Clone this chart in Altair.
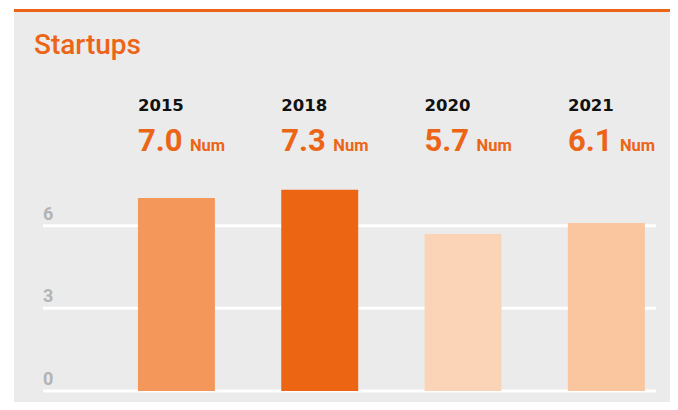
import altair as alt
import pandas as pd

# ---- data ----
years = ["2015", "2018", "2020", "2021"]
values = [7.0, 7.3, 5.7, 6.1]
bar_colors = ["#F3975A", "#EC6513", "#FBD4B8", "#F9C6A0"]
tick_values = [0, 3, 6]
title_text = "Startups"
unit = "Num"

ORANGE = "#EC6517"
BG = "#EBEBEB"

W, H = 613, 383

df = pd.DataFrame({"year": years, "value": values,
                   "label": [f"{v:.1f}" for v in values],
                   "unit": [unit] * len(years)})
ticks = pd.DataFrame({"t": tick_values, "lab": [str(t) for t in tick_values]})
one = pd.DataFrame({"a": [0]})

xscale = alt.Scale(domain=years, paddingInner=0.463, paddingOuter=0.37, align=0.895)
yscale = alt.Scale(domain=[0, 13.9], nice=False, zero=True)

panel = alt.Chart(one).mark_rect(color=BG).encode(
    x=alt.value(-29), x2=alt.value(627), y=alt.value(4), y2=alt.value(394))
topline = alt.Chart(one).mark_rect(color=ORANGE).encode(
    x=alt.value(-29), x2=alt.value(627), y=alt.value(1), y2=alt.value(4))

grid = alt.Chart(ticks).mark_rule(color="white", strokeWidth=3).encode(
    y=alt.Y("t:Q", scale=yscale, axis=None),
    x=alt.value(0), x2=alt.value(W))
ticklab = alt.Chart(ticks).mark_text(
    align="left", baseline="alphabetic", dy=-6, font="Roboto", fontSize=18,
    fontWeight="bold", color="#B3B3B3").encode(
    y=alt.Y("t:Q", scale=yscale, axis=None), x=alt.value(0), text="lab:N")

bars = alt.Chart(df).mark_bar().encode(
    x=alt.X("year:N", scale=xscale, axis=None, sort=years),
    y=alt.Y("value:Q", scale=yscale, axis=None),
    color=alt.Color("year:N", scale=alt.Scale(domain=years, range=bar_colors), legend=None))

year_txt = alt.Chart(df).mark_text(
    align="left", baseline="alphabetic", font="DejaVu Sans", fontSize=16.5,
    fontWeight="bold", color="#111111").encode(
    x=alt.X("year:N", scale=xscale, axis=None, sort=years, bandPosition=0),
    y=alt.value(102.7), text="year:N")

val_txt = alt.Chart(df).mark_text(
    align="left", baseline="alphabetic", font="Roboto", fontSize=31,
    fontWeight="bold", color=ORANGE).encode(
    x=alt.X("year:N", scale=xscale, axis=None, sort=years, bandPosition=0),
    y=alt.value(143), text="label:N")

unit_txt = alt.Chart(df).mark_text(
    align="left", baseline="alphabetic", font="Roboto", fontSize=16.5, dx=52,
    fontWeight="bold", color=ORANGE).encode(
    x=alt.X("year:N", scale=xscale, axis=None, sort=years, bandPosition=0),
    y=alt.value(143), text="unit:N")

title = alt.Chart(one).mark_text(
    align="left", baseline="alphabetic", font="Roboto", fontSize=28,
    fontWeight=500, color=ORANGE, text=title_text).encode(
    x=alt.value(-9), y=alt.value(46.3))

chart = alt.layer(panel, topline, grid, ticklab, bars, year_txt, val_txt, unit_txt, title).properties(
    width=W, height=H,
    padding={"left": 35, "top": 0, "right": 14, "bottom": 11},
    autosize=alt.AutoSizeParams(type="none"),
    background="white",
).configure_view(stroke=None)

chart.save("out.html", embed_options={"renderer": "svg", "actions": False})
